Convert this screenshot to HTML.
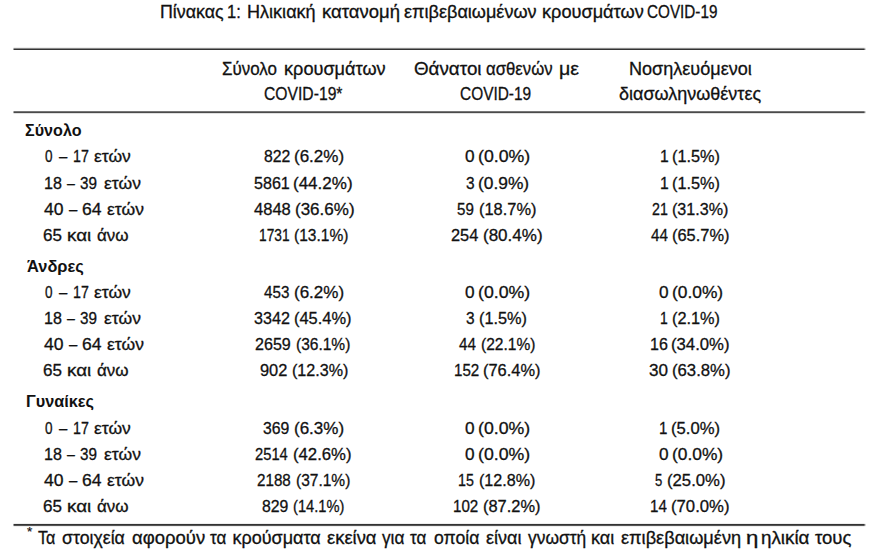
<!DOCTYPE html><html><head><meta charset="utf-8"><style>
html,body{margin:0;padding:0;background:#fff;width:880px;height:557px;overflow:hidden;}
body{position:relative;font-family:"Liberation Sans",sans-serif;color:#111111;}
.t{position:absolute;white-space:nowrap;line-height:1;transform-origin:0 0;-webkit-text-stroke:0.3px #111111;}
.hl{position:absolute;left:14px;width:850px;height:1px;}
</style></head><body>
<div class="t" id="t0" style="left:160.00px;top:3.93px;font-size:17.80px;transform:scaleX(1.0017);">Πίνακας</div>
<div class="t" id="t1" style="left:227.32px;top:3.93px;font-size:17.80px;transform:scaleX(0.9263);">1:</div>
<div class="t" id="t2" style="left:246.67px;top:3.93px;font-size:17.80px;transform:scaleX(1.0158);">Ηλικιακή</div>
<div class="t" id="t3" style="left:321.68px;top:3.93px;font-size:17.80px;transform:scaleX(1.0412);">κατανομή</div>
<div class="t" id="t4" style="left:404.30px;top:3.93px;font-size:17.80px;transform:scaleX(1.0163);">επιβεβαιωμένων</div>
<div class="t" id="t5" style="left:541.66px;top:3.93px;font-size:17.80px;transform:scaleX(1.0214);">κρουσμάτων</div>
<div class="t" id="t6" style="left:647.37px;top:3.93px;font-size:17.80px;transform:scaleX(0.8584);">COVID-19</div>
<div class="t" id="h1a0" style="left:221.80px;top:59.74px;font-size:18.50px;transform:scaleX(0.9156);">Σύνολο</div>
<div class="t" id="h1a1" style="left:283.51px;top:59.74px;font-size:18.50px;transform:scaleX(0.9807);">κρουσμάτων</div>
<div class="t" id="h1b" style="left:264.24px;top:84.54px;font-size:18.50px;transform:scaleX(0.8480);">COVID-19*</div>
<div class="t" id="h2a0" style="left:414.19px;top:59.74px;font-size:18.50px;transform:scaleX(1.0157);">Θάνατοι</div>
<div class="t" id="h2a1" style="left:485.82px;top:59.74px;font-size:18.50px;transform:scaleX(0.9044);">ασθενών</div>
<div class="t" id="h2a2" style="left:559.45px;top:59.74px;font-size:18.50px;transform:scaleX(1.0593);">με</div>
<div class="t" id="h2b" style="left:460.32px;top:84.54px;font-size:18.50px;transform:scaleX(0.8335);">COVID-19</div>
<div class="t" id="h3a" style="left:628.73px;top:59.74px;font-size:18.50px;transform:scaleX(0.9759);">Νοσηλευόμενοι</div>
<div class="t" id="h3b" style="left:619.41px;top:84.54px;font-size:18.50px;transform:scaleX(0.9725);">διασωληνωθέντες</div>
<div class="t" id="g0" style="left:25.34px;top:122.01px;font-size:17.00px;font-weight:700;-webkit-text-stroke:0px #111111;transform:scaleX(0.9486);">Σύνολο</div>
<div class="t" id="a0_0_0" style="left:44.67px;top:148.31px;font-size:17.00px;transform:scaleX(0.7947);">0</div>
<div class="t" id="a0_0_1" style="left:59.20px;top:148.31px;font-size:17.00px;transform:scaleX(0.8756);">–</div>
<div class="t" id="a0_0_2" style="left:72.52px;top:148.31px;font-size:17.00px;transform:scaleX(0.8366);">17</div>
<div class="t" id="a0_0_3" style="left:94.00px;top:148.31px;font-size:17.00px;transform:scaleX(1.0289);">ετών</div>
<div class="t" id="n0_0_0" style="left:263.54px;top:148.31px;font-size:17.00px;transform:scaleX(0.9286);">822</div>
<div class="t" id="p0_0_0" style="left:293.90px;top:148.31px;font-size:17.00px;transform:scaleX(1.0005);">(6.2%)</div>
<div class="t" id="n0_0_1" style="left:464.62px;top:148.31px;font-size:17.00px;transform:scaleX(1.0125);">0</div>
<div class="t" id="p0_0_1" style="left:478.07px;top:148.31px;font-size:17.00px;transform:scaleX(1.0420);">(0.0%)</div>
<div class="t" id="n0_0_2" style="left:659.59px;top:148.31px;font-size:17.00px;transform:scaleX(0.9208);">1</div>
<div class="t" id="p0_0_2" style="left:672.23px;top:148.31px;font-size:17.00px;transform:scaleX(0.9587);">(1.5%)</div>
<div class="t" id="a0_1_0" style="left:43.53px;top:174.71px;font-size:17.00px;transform:scaleX(0.9459);">18</div>
<div class="t" id="a0_1_1" style="left:66.57px;top:174.71px;font-size:17.00px;transform:scaleX(0.8325);">–</div>
<div class="t" id="a0_1_2" style="left:80.29px;top:174.71px;font-size:17.00px;transform:scaleX(0.8964);">39</div>
<div class="t" id="a0_1_3" style="left:103.56px;top:174.71px;font-size:17.00px;transform:scaleX(1.0295);">ετών</div>
<div class="t" id="n0_1_0" style="left:253.51px;top:174.71px;font-size:17.00px;transform:scaleX(0.9463);">5861</div>
<div class="t" id="p0_1_0" style="left:293.00px;top:174.71px;font-size:17.00px;transform:scaleX(1.0004);">(44.2%)</div>
<div class="t" id="n0_1_1" style="left:465.54px;top:174.71px;font-size:17.00px;transform:scaleX(0.9088);">3</div>
<div class="t" id="p0_1_1" style="left:478.07px;top:174.71px;font-size:17.00px;transform:scaleX(1.0213);">(0.9%)</div>
<div class="t" id="n0_1_2" style="left:659.59px;top:174.71px;font-size:17.00px;transform:scaleX(0.9208);">1</div>
<div class="t" id="p0_1_2" style="left:672.23px;top:174.71px;font-size:17.00px;transform:scaleX(0.9587);">(1.5%)</div>
<div class="t" id="a0_2_0" style="left:44.41px;top:200.91px;font-size:17.00px;transform:scaleX(1.0319);">40</div>
<div class="t" id="a0_2_1" style="left:69.10px;top:200.91px;font-size:17.00px;transform:scaleX(0.8789);">–</div>
<div class="t" id="a0_2_2" style="left:82.10px;top:200.91px;font-size:17.00px;transform:scaleX(1.0293);">64</div>
<div class="t" id="a0_2_3" style="left:106.89px;top:200.91px;font-size:17.00px;transform:scaleX(1.0294);">ετών</div>
<div class="t" id="n0_2_0" style="left:253.59px;top:200.91px;font-size:17.00px;transform:scaleX(0.9736);">4848</div>
<div class="t" id="p0_2_0" style="left:294.79px;top:200.91px;font-size:17.00px;transform:scaleX(1.0004);">(36.6%)</div>
<div class="t" id="n0_2_1" style="left:456.65px;top:200.91px;font-size:17.00px;transform:scaleX(0.8904);">59</div>
<div class="t" id="p0_2_1" style="left:479.03px;top:200.91px;font-size:17.00px;transform:scaleX(0.9659);">(18.7%)</div>
<div class="t" id="n0_2_2" style="left:651.70px;top:200.91px;font-size:17.00px;transform:scaleX(0.8362);">21</div>
<div class="t" id="p0_2_2" style="left:672.25px;top:200.91px;font-size:17.00px;transform:scaleX(0.9486);">(31.3%)</div>
<div class="t" id="a0_3_0" style="left:43.47px;top:226.91px;font-size:17.00px;transform:scaleX(1.0034);">65</div>
<div class="t" id="a0_3_1" style="left:66.67px;top:226.91px;font-size:17.00px;transform:scaleX(1.1038);">και</div>
<div class="t" id="a0_3_2" style="left:97.41px;top:226.91px;font-size:17.00px;transform:scaleX(1.0008);">άνω</div>
<div class="t" id="n0_3_0" style="left:259.10px;top:226.91px;font-size:17.00px;transform:scaleX(0.8066);">1731</div>
<div class="t" id="p0_3_0" style="left:293.99px;top:226.91px;font-size:17.00px;transform:scaleX(0.9139);">(13.1%)</div>
<div class="t" id="n0_3_1" style="left:451.23px;top:226.91px;font-size:17.00px;transform:scaleX(0.9630);">254</div>
<div class="t" id="p0_3_1" style="left:482.61px;top:226.91px;font-size:17.00px;transform:scaleX(1.0004);">(80.4%)</div>
<div class="t" id="n0_3_2" style="left:650.82px;top:226.91px;font-size:17.00px;transform:scaleX(0.8947);">44</div>
<div class="t" id="p0_3_2" style="left:672.21px;top:226.91px;font-size:17.00px;transform:scaleX(0.9659);">(65.7%)</div>
<div class="t" id="g1" style="left:27.41px;top:258.01px;font-size:17.00px;font-weight:700;-webkit-text-stroke:0px #111111;transform:scaleX(0.9659);">Άνδρες</div>
<div class="t" id="a1_0_0" style="left:44.67px;top:284.31px;font-size:17.00px;transform:scaleX(0.7947);">0</div>
<div class="t" id="a1_0_1" style="left:59.20px;top:284.31px;font-size:17.00px;transform:scaleX(0.8756);">–</div>
<div class="t" id="a1_0_2" style="left:72.52px;top:284.31px;font-size:17.00px;transform:scaleX(0.8366);">17</div>
<div class="t" id="a1_0_3" style="left:94.00px;top:284.31px;font-size:17.00px;transform:scaleX(1.0289);">ετών</div>
<div class="t" id="n1_0_0" style="left:263.56px;top:284.31px;font-size:17.00px;transform:scaleX(0.8935);">453</div>
<div class="t" id="p1_0_0" style="left:293.90px;top:284.31px;font-size:17.00px;transform:scaleX(1.0005);">(6.2%)</div>
<div class="t" id="n1_0_1" style="left:464.62px;top:284.31px;font-size:17.00px;transform:scaleX(1.0125);">0</div>
<div class="t" id="p1_0_1" style="left:478.07px;top:284.31px;font-size:17.00px;transform:scaleX(1.0420);">(0.0%)</div>
<div class="t" id="n1_0_2" style="left:658.71px;top:284.31px;font-size:17.00px;transform:scaleX(1.0125);">0</div>
<div class="t" id="p1_0_2" style="left:672.18px;top:284.31px;font-size:17.00px;transform:scaleX(1.0213);">(0.0%)</div>
<div class="t" id="a1_1_0" style="left:43.53px;top:310.11px;font-size:17.00px;transform:scaleX(0.9459);">18</div>
<div class="t" id="a1_1_1" style="left:66.57px;top:310.11px;font-size:17.00px;transform:scaleX(0.8325);">–</div>
<div class="t" id="a1_1_2" style="left:80.29px;top:310.11px;font-size:17.00px;transform:scaleX(0.8964);">39</div>
<div class="t" id="a1_1_3" style="left:103.56px;top:310.11px;font-size:17.00px;transform:scaleX(1.0295);">ετών</div>
<div class="t" id="n1_1_0" style="left:254.40px;top:310.11px;font-size:17.00px;transform:scaleX(0.9479);">3342</div>
<div class="t" id="p1_1_0" style="left:293.93px;top:310.11px;font-size:17.00px;transform:scaleX(0.9659);">(45.4%)</div>
<div class="t" id="n1_1_1" style="left:466.40px;top:310.11px;font-size:17.00px;transform:scaleX(0.9088);">3</div>
<div class="t" id="p1_1_1" style="left:479.04px;top:310.11px;font-size:17.00px;transform:scaleX(0.9589);">(1.5%)</div>
<div class="t" id="n1_1_2" style="left:660.40px;top:310.11px;font-size:17.00px;transform:scaleX(0.8206);">1</div>
<div class="t" id="p1_1_2" style="left:672.23px;top:310.11px;font-size:17.00px;transform:scaleX(0.9587);">(2.1%)</div>
<div class="t" id="a1_2_0" style="left:44.41px;top:335.91px;font-size:17.00px;transform:scaleX(1.0319);">40</div>
<div class="t" id="a1_2_1" style="left:69.10px;top:335.91px;font-size:17.00px;transform:scaleX(0.8789);">–</div>
<div class="t" id="a1_2_2" style="left:82.10px;top:335.91px;font-size:17.00px;transform:scaleX(1.0293);">64</div>
<div class="t" id="a1_2_3" style="left:106.89px;top:335.91px;font-size:17.00px;transform:scaleX(1.0294);">ετών</div>
<div class="t" id="n1_2_0" style="left:255.43px;top:335.91px;font-size:17.00px;transform:scaleX(0.9459);">2659</div>
<div class="t" id="p1_2_0" style="left:295.79px;top:335.91px;font-size:17.00px;transform:scaleX(0.9128);">(36.1%)</div>
<div class="t" id="n1_2_1" style="left:458.53px;top:335.91px;font-size:17.00px;transform:scaleX(0.8920);">44</div>
<div class="t" id="p1_2_1" style="left:480.91px;top:335.91px;font-size:17.00px;transform:scaleX(0.9139);">(22.1%)</div>
<div class="t" id="n1_2_2" style="left:649.88px;top:335.91px;font-size:17.00px;transform:scaleX(0.9428);">16</div>
<div class="t" id="p1_2_2" style="left:671.32px;top:335.91px;font-size:17.00px;transform:scaleX(0.9831);">(34.0%)</div>
<div class="t" id="a1_3_0" style="left:43.47px;top:361.71px;font-size:17.00px;transform:scaleX(1.0034);">65</div>
<div class="t" id="a1_3_1" style="left:66.67px;top:361.71px;font-size:17.00px;transform:scaleX(1.1038);">και</div>
<div class="t" id="a1_3_2" style="left:97.41px;top:361.71px;font-size:17.00px;transform:scaleX(1.0008);">άνω</div>
<div class="t" id="n1_3_0" style="left:259.95px;top:361.71px;font-size:17.00px;transform:scaleX(0.9649);">902</div>
<div class="t" id="p1_3_0" style="left:292.14px;top:361.71px;font-size:17.00px;transform:scaleX(0.9486);">(12.3%)</div>
<div class="t" id="n1_3_1" style="left:454.01px;top:361.71px;font-size:17.00px;transform:scaleX(0.8906);">152</div>
<div class="t" id="p1_3_1" style="left:482.60px;top:361.71px;font-size:17.00px;transform:scaleX(0.9659);">(76.4%)</div>
<div class="t" id="n1_3_2" style="left:648.90px;top:361.71px;font-size:17.00px;transform:scaleX(1.0045);">30</div>
<div class="t" id="p1_3_2" style="left:672.21px;top:361.71px;font-size:17.00px;transform:scaleX(0.9831);">(63.8%)</div>
<div class="t" id="g2" style="left:26.47px;top:393.21px;font-size:17.00px;font-weight:700;-webkit-text-stroke:0px #111111;transform:scaleX(0.9565);">Γυναίκες</div>
<div class="t" id="a2_0_0" style="left:44.67px;top:419.81px;font-size:17.00px;transform:scaleX(0.7947);">0</div>
<div class="t" id="a2_0_1" style="left:59.20px;top:419.81px;font-size:17.00px;transform:scaleX(0.8756);">–</div>
<div class="t" id="a2_0_2" style="left:72.52px;top:419.81px;font-size:17.00px;transform:scaleX(0.8366);">17</div>
<div class="t" id="a2_0_3" style="left:94.00px;top:419.81px;font-size:17.00px;transform:scaleX(1.0289);">ετών</div>
<div class="t" id="n2_0_0" style="left:262.63px;top:419.81px;font-size:17.00px;transform:scaleX(0.9286);">369</div>
<div class="t" id="p2_0_0" style="left:293.90px;top:419.81px;font-size:17.00px;transform:scaleX(1.0005);">(6.3%)</div>
<div class="t" id="n2_0_1" style="left:464.62px;top:419.81px;font-size:17.00px;transform:scaleX(1.0125);">0</div>
<div class="t" id="p2_0_1" style="left:478.07px;top:419.81px;font-size:17.00px;transform:scaleX(1.0420);">(0.0%)</div>
<div class="t" id="n2_0_2" style="left:658.80px;top:419.81px;font-size:17.00px;transform:scaleX(0.8879);">1</div>
<div class="t" id="p2_0_2" style="left:671.30px;top:419.81px;font-size:17.00px;transform:scaleX(0.9801);">(5.0%)</div>
<div class="t" id="a2_1_0" style="left:43.53px;top:446.01px;font-size:17.00px;transform:scaleX(0.9459);">18</div>
<div class="t" id="a2_1_1" style="left:66.57px;top:446.01px;font-size:17.00px;transform:scaleX(0.8325);">–</div>
<div class="t" id="a2_1_2" style="left:80.29px;top:446.01px;font-size:17.00px;transform:scaleX(0.8964);">39</div>
<div class="t" id="a2_1_3" style="left:103.56px;top:446.01px;font-size:17.00px;transform:scaleX(1.0295);">ετών</div>
<div class="t" id="n2_1_0" style="left:255.46px;top:446.01px;font-size:17.00px;transform:scaleX(0.8663);">2514</div>
<div class="t" id="p2_1_0" style="left:293.02px;top:446.01px;font-size:17.00px;transform:scaleX(0.9831);">(42.6%)</div>
<div class="t" id="n2_1_1" style="left:464.62px;top:446.01px;font-size:17.00px;transform:scaleX(1.0125);">0</div>
<div class="t" id="p2_1_1" style="left:478.07px;top:446.01px;font-size:17.00px;transform:scaleX(1.0420);">(0.0%)</div>
<div class="t" id="n2_1_2" style="left:658.71px;top:446.01px;font-size:17.00px;transform:scaleX(1.0125);">0</div>
<div class="t" id="p2_1_2" style="left:672.18px;top:446.01px;font-size:17.00px;transform:scaleX(1.0213);">(0.0%)</div>
<div class="t" id="a2_2_0" style="left:44.41px;top:472.11px;font-size:17.00px;transform:scaleX(1.0319);">40</div>
<div class="t" id="a2_2_1" style="left:69.10px;top:472.11px;font-size:17.00px;transform:scaleX(0.8789);">–</div>
<div class="t" id="a2_2_2" style="left:82.10px;top:472.11px;font-size:17.00px;transform:scaleX(1.0293);">64</div>
<div class="t" id="a2_2_3" style="left:106.89px;top:472.11px;font-size:17.00px;transform:scaleX(1.0294);">ετών</div>
<div class="t" id="n2_2_0" style="left:257.26px;top:472.11px;font-size:17.00px;transform:scaleX(0.8925);">2188</div>
<div class="t" id="p2_2_0" style="left:295.79px;top:472.11px;font-size:17.00px;transform:scaleX(0.9128);">(37.1%)</div>
<div class="t" id="n2_2_1" style="left:458.43px;top:472.11px;font-size:17.00px;transform:scaleX(0.8375);">15</div>
<div class="t" id="p2_2_1" style="left:479.05px;top:472.11px;font-size:17.00px;transform:scaleX(0.9486);">(12.8%)</div>
<div class="t" id="n2_2_2" style="left:655.41px;top:472.11px;font-size:17.00px;transform:scaleX(0.7720);">5</div>
<div class="t" id="p2_2_2" style="left:666.82px;top:472.11px;font-size:17.00px;transform:scaleX(0.9831);">(25.0%)</div>
<div class="t" id="a2_3_0" style="left:43.47px;top:497.71px;font-size:17.00px;transform:scaleX(1.0034);">65</div>
<div class="t" id="a2_3_1" style="left:66.67px;top:497.71px;font-size:17.00px;transform:scaleX(1.1038);">και</div>
<div class="t" id="a2_3_2" style="left:97.41px;top:497.71px;font-size:17.00px;transform:scaleX(1.0008);">άνω</div>
<div class="t" id="n2_3_0" style="left:261.72px;top:497.71px;font-size:17.00px;transform:scaleX(0.9286);">829</div>
<div class="t" id="p2_3_0" style="left:293.14px;top:497.71px;font-size:17.00px;transform:scaleX(0.8623);">(14.1%)</div>
<div class="t" id="n2_3_1" style="left:453.11px;top:497.71px;font-size:17.00px;transform:scaleX(0.8901);">102</div>
<div class="t" id="p2_3_1" style="left:482.60px;top:497.71px;font-size:17.00px;transform:scaleX(0.9659);">(87.2%)</div>
<div class="t" id="n2_3_2" style="left:649.91px;top:497.71px;font-size:17.00px;transform:scaleX(0.8904);">14</div>
<div class="t" id="p2_3_2" style="left:671.32px;top:497.71px;font-size:17.00px;transform:scaleX(0.9831);">(70.0%)</div>
<div class="t" id="f0" style="left:38.48px;top:528.56px;font-size:18.00px;transform:scaleX(0.8961);">Τα</div>
<div class="t" id="f1" style="left:62.30px;top:528.56px;font-size:18.00px;transform:scaleX(0.9843);">στοιχεία</div>
<div class="t" id="f2" style="left:131.77px;top:528.56px;font-size:18.00px;transform:scaleX(1.0286);">αφορούν</div>
<div class="t" id="f3" style="left:210.21px;top:528.56px;font-size:18.00px;transform:scaleX(0.9440);">τα</div>
<div class="t" id="f4" style="left:232.49px;top:528.56px;font-size:18.00px;">κρούσματα</div>
<div class="t" id="f5" style="left:326.81px;top:528.56px;font-size:18.00px;transform:scaleX(1.0213);">εκείνα</div>
<div class="t" id="f6" style="left:382.23px;top:528.56px;font-size:18.00px;transform:scaleX(0.9580);">για</div>
<div class="t" id="f7" style="left:410.29px;top:528.56px;font-size:18.00px;transform:scaleX(0.9440);">τα</div>
<div class="t" id="f8" style="left:433.50px;top:528.56px;font-size:18.00px;transform:scaleX(0.9786);">οποία</div>
<div class="t" id="f9" style="left:485.51px;top:528.56px;font-size:18.00px;transform:scaleX(1.0004);">είναι</div>
<div class="t" id="f10" style="left:527.71px;top:528.56px;font-size:18.00px;transform:scaleX(0.9662);">γνωστή</div>
<div class="t" id="f11" style="left:591.43px;top:528.56px;font-size:18.00px;transform:scaleX(1.0016);">και</div>
<div class="t" id="f12" style="left:621.00px;top:528.56px;font-size:18.00px;transform:scaleX(1.0085);">επιβεβαιωμένη</div>
<div class="t" id="f13" style="left:745.71px;top:528.56px;font-size:18.00px;transform:scaleX(1.2338);">η</div>
<div class="t" id="f14" style="left:761.18px;top:528.56px;font-size:18.00px;transform:scaleX(1.0448);">ηλικία</div>
<div class="t" id="f15" style="left:814.59px;top:528.56px;font-size:18.00px;transform:scaleX(1.0292);">τους</div>
<div class="hl" style="top:47px;background:#eeeeee"></div>
<div class="hl" style="top:47px;left:13px;width:1px;background:#eeeeee;opacity:0.50"></div>
<div class="hl" style="top:47px;left:864px;width:1px;background:#eeeeee;opacity:0.70"></div>
<div class="hl" style="top:47px;left:865px;width:1px;background:#eeeeee;opacity:0.25"></div>
<div class="hl" style="top:48px;background:#888888"></div>
<div class="hl" style="top:48px;left:13px;width:1px;background:#888888;opacity:0.50"></div>
<div class="hl" style="top:48px;left:864px;width:1px;background:#888888;opacity:0.70"></div>
<div class="hl" style="top:48px;left:865px;width:1px;background:#888888;opacity:0.25"></div>
<div class="hl" style="top:49px;background:#333333"></div>
<div class="hl" style="top:49px;left:13px;width:1px;background:#333333;opacity:0.50"></div>
<div class="hl" style="top:49px;left:864px;width:1px;background:#333333;opacity:0.70"></div>
<div class="hl" style="top:49px;left:865px;width:1px;background:#333333;opacity:0.25"></div>
<div class="hl" style="top:111px;background:#777777"></div>
<div class="hl" style="top:111px;left:13px;width:1px;background:#777777;opacity:0.50"></div>
<div class="hl" style="top:111px;left:864px;width:1px;background:#777777;opacity:0.70"></div>
<div class="hl" style="top:111px;left:865px;width:1px;background:#777777;opacity:0.25"></div>
<div class="hl" style="top:112px;background:#4a4a4a"></div>
<div class="hl" style="top:112px;left:13px;width:1px;background:#4a4a4a;opacity:0.50"></div>
<div class="hl" style="top:112px;left:864px;width:1px;background:#4a4a4a;opacity:0.70"></div>
<div class="hl" style="top:112px;left:865px;width:1px;background:#4a4a4a;opacity:0.25"></div>
<div class="hl" style="top:113px;background:#e0e0e0"></div>
<div class="hl" style="top:113px;left:13px;width:1px;background:#e0e0e0;opacity:0.50"></div>
<div class="hl" style="top:113px;left:864px;width:1px;background:#e0e0e0;opacity:0.70"></div>
<div class="hl" style="top:113px;left:865px;width:1px;background:#e0e0e0;opacity:0.25"></div>
<div class="hl" style="top:523px;background:#eeeeee"></div>
<div class="hl" style="top:523px;left:13px;width:1px;background:#eeeeee;opacity:0.50"></div>
<div class="hl" style="top:523px;left:864px;width:1px;background:#eeeeee;opacity:0.70"></div>
<div class="hl" style="top:523px;left:865px;width:1px;background:#eeeeee;opacity:0.25"></div>
<div class="hl" style="top:524px;background:#333333"></div>
<div class="hl" style="top:524px;left:13px;width:1px;background:#333333;opacity:0.50"></div>
<div class="hl" style="top:524px;left:864px;width:1px;background:#333333;opacity:0.70"></div>
<div class="hl" style="top:524px;left:865px;width:1px;background:#333333;opacity:0.25"></div>
<div class="hl" style="top:525px;background:#555555"></div>
<div class="hl" style="top:525px;left:13px;width:1px;background:#555555;opacity:0.50"></div>
<div class="hl" style="top:525px;left:864px;width:1px;background:#555555;opacity:0.70"></div>
<div class="hl" style="top:525px;left:865px;width:1px;background:#555555;opacity:0.25"></div>
<div class="hl" style="top:526px;background:#eeeeee"></div>
<div class="hl" style="top:526px;left:13px;width:1px;background:#eeeeee;opacity:0.50"></div>
<div class="hl" style="top:526px;left:864px;width:1px;background:#eeeeee;opacity:0.70"></div>
<div class="hl" style="top:526px;left:865px;width:1px;background:#eeeeee;opacity:0.25"></div>
<div class="t" style="left:27.0px;top:525.0px;font-size:13.5px;-webkit-text-stroke:0.2px #1c1c1c;">*</div>
</body></html>
